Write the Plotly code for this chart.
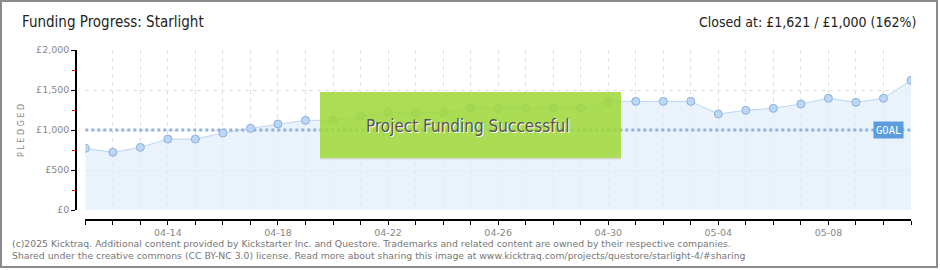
import plotly.graph_objects as go

# ---- data ----
dates = ["04-11", "04-12", "04-13", "04-14", "04-15", "04-16", "04-17", "04-18",
         "04-19", "04-20", "04-21", "04-22", "04-23", "04-24", "04-25", "04-26",
         "04-27", "04-28", "04-29", "04-30", "05-01", "05-02", "05-03", "05-04",
         "05-05", "05-06", "05-07", "05-08", "05-09", "05-10", "05-11"]
pledged = [771, 721, 783, 887, 887, 962, 1021, 1075, 1121, 1121, 1171, 1217, 1217,
           1217, 1271, 1271, 1271, 1271, 1271, 1358, 1358, 1358, 1358, 1200, 1246,
           1271, 1325, 1396, 1346, 1396, 1621]
goal = 1000
labeled_dates = ["04-14", "04-18", "04-22", "04-26", "04-30", "05-04", "05-08"]
y_ticks = [0, 500, 1000, 1500, 2000]
y_ticktext = ["£0", "£500", "£1,000", "£1,500", "£2,000"]
y_minor = [250, 750, 1250, 1750]

W, H = 940, 270
L, R, T, B = 76, 29, 50, 50
pw, ph = W - L - R, H - T - B

def px(xp):
    return (xp - L) / pw

def py(yp):
    return (H - B - yp) / ph

xdom = [(85.3 - L) / pw, 1]
day_index = list(range(len(dates)))

fig = go.Figure()

# invisible helper trace so the grid axis (x2) gets drawn
fig.add_trace(go.Scatter(
    x=day_index, y=pledged, xaxis="x2", mode="lines",
    line=dict(width=0, color="rgba(0,0,0,0)"), hoverinfo="skip", showlegend=False))

fig.add_trace(go.Scatter(
    x=dates, y=pledged, mode="lines", fill="tozeroy",
    fillcolor="rgba(225,237,250,0.7)",
    line=dict(color="#bcd5f1", width=1), hoverinfo="skip", showlegend=False))

fig.add_trace(go.Scatter(
    x=[dates[0], dates[-1]], y=[goal, goal], mode="lines",
    line=dict(color="#8fb3e0", width=3, dash="3px,3px"),
    hoverinfo="skip", showlegend=False))

fig.add_trace(go.Scatter(
    x=dates, y=pledged, mode="markers",
    marker=dict(size=8, color="#bcd7f5", line=dict(color="#8bb0dc", width=1)),
    showlegend=False))

ticktext = [d if d in labeled_dates else "" for d in dates]

fig.update_layout(
    width=W, height=H, margin=dict(l=L, r=R, t=T, b=B),
    paper_bgcolor="white", plot_bgcolor="rgba(0,0,0,0)",
    font=dict(family="DejaVu Sans", color="#888"),
    xaxis=dict(
        type="category", domain=xdom, range=[0, len(dates) - 1],
        anchor="free", position=0,
        tickmode="array", tickvals=dates, ticktext=ticktext,
        ticks="outside", ticklen=4, tickcolor="black", tickwidth=1,
        showline=True, linecolor="black", linewidth=1.5,
        showgrid=False,
        tickfont=dict(size=9.5, color="#888"), zeroline=False),
    xaxis2=dict(
        type="linear", domain=xdom, range=[0, len(dates) - 1], anchor="y",
        overlaying="x", tickmode="linear", tick0=0, dtick=1,
        showticklabels=False, ticks="", showline=False, zeroline=False,
        showgrid=True, gridcolor="#e0e0e0", griddash="4px,4px", gridwidth=1),
    yaxis=dict(
        domain=[10 / ph, 1], range=[0, 2000], anchor="free", position=0,
        tickmode="array", tickvals=y_ticks, ticktext=y_ticktext,
        ticks="outside", ticklen=4, tickcolor="black", tickwidth=1,
        showline=True, linecolor="black", linewidth=1.5,
        showgrid=True, gridcolor="#e0e0e0", griddash="4px,4px", gridwidth=1,
        minor=dict(tickvals=y_minor, ticks="outside", ticklen=3,
                   tickcolor="red", tickwidth=1, showgrid=False),
        tickfont=dict(size=9.5, color="#888"), zeroline=False),
)

# frame
fig.add_shape(type="rect", xref="paper", yref="paper",
              x0=px(1), x1=px(937), y0=py(267), y1=py(1),
              line=dict(color="#8c8c8c", width=2), layer="above")

# success box
fig.add_shape(type="rect", xref="paper", yref="paper",
              x0=px(320), x1=px(621), y0=py(158), y1=py(92),
              fillcolor="rgba(160,216,60,0.88)", line=dict(width=0), layer="above")
fig.add_shape(type="line", xref="paper", yref="paper",
              x0=px(320), x1=px(621), y0=py(158.5), y1=py(158.5),
              line=dict(color="#cfd8c0", width=1.5), layer="above")

narrow = "Liberation Sans Narrow, DejaVu Sans Condensed, Liberation Sans"
annots = [
    dict(text="Project Funding Successful", x=px(468), y=py(126),
         font=dict(family=narrow, size=17, color="#555", shadow="1px 1px 0px white")),
    dict(text="Funding Progress: Starlight", x=px(20), y=py(22), xanchor="left",
         font=dict(family=narrow, size=15, color="#222")),
    dict(text="Closed at: £1,621 / £1,000 (162%)", x=px(918), y=py(22),
         xanchor="right", font=dict(family=narrow, size=14, color="#222")),
    dict(text="P L E D G E D", x=px(21), y=py(130), textangle=-90,
         font=dict(size=8, color="#888")),
    dict(text="(c)2025 Kicktraq. Additional content provided by Kickstarter Inc. and Questore. "
              "Trademarks and related content are owned by their respective companies.",
         x=px(10), y=py(243), xanchor="left", font=dict(size=9.3, color="#777")),
    dict(text="Shared under the creative commons (CC BY-NC 3.0) license. Read more about "
              "sharing this image at www.kicktraq.com/projects/questore/starlight-4/#sharing",
         x=px(10), y=py(256), xanchor="left", font=dict(size=9.3, color="#777")),
]
for a in annots:
    a.setdefault("xanchor", "center")
    fig.add_annotation(xref="paper", yref="paper", showarrow=False, yanchor="middle", **a)

fig.add_annotation(text="GOAL", xref="paper", yref="y", x=px(888), y=goal,
                   xanchor="center", yanchor="middle",
                   showarrow=False, bgcolor="#5b9cde", borderpad=2,
                   font=dict(family="DejaVu Sans Mono", size=10.5, color="white"))

fig.write_html("out.html")
